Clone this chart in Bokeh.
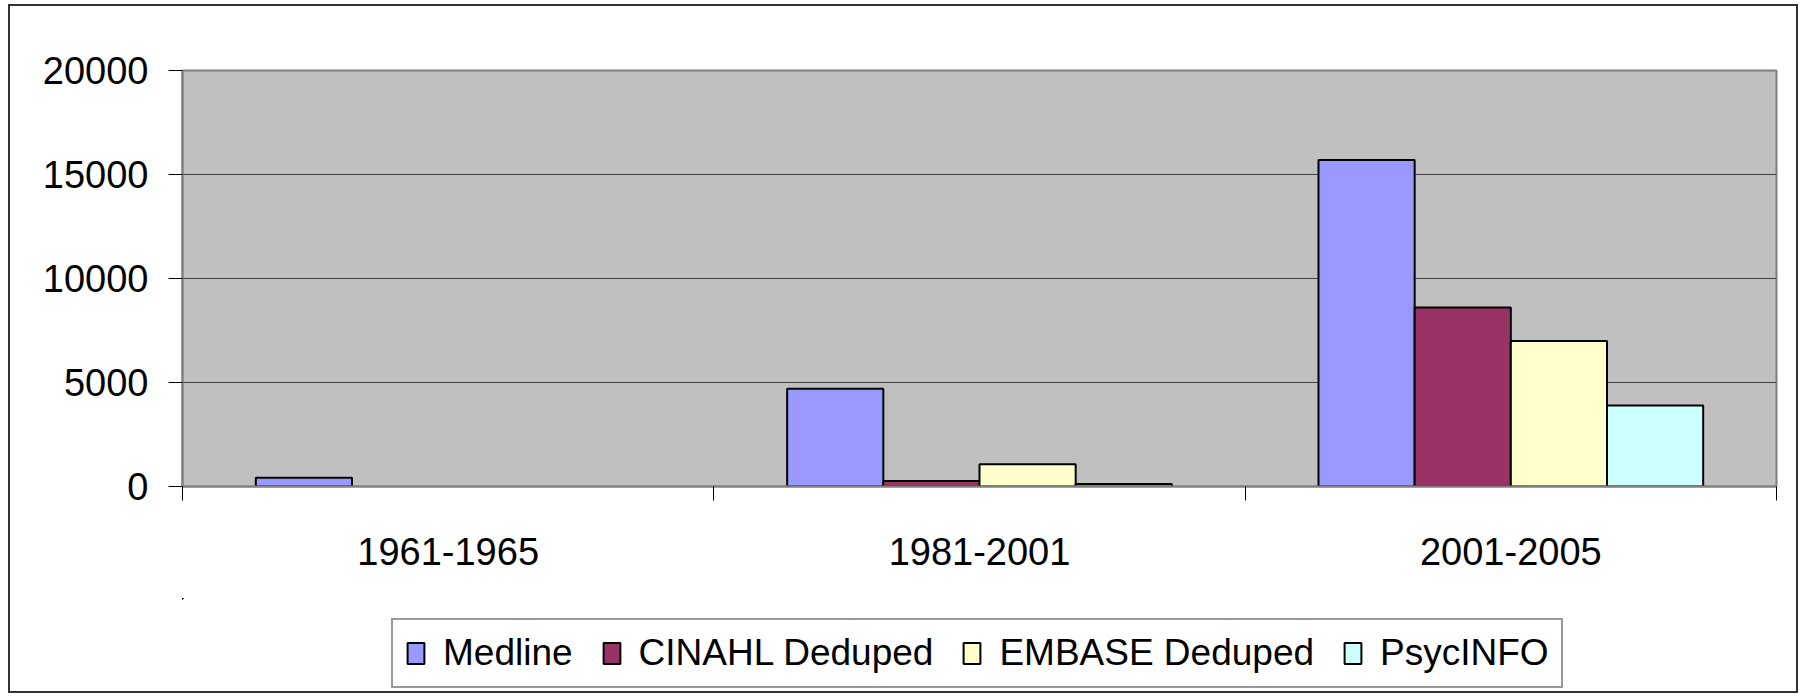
from bokeh.plotting import figure
from bokeh.layouts import column
from bokeh.models import (ColumnDataSource, Range1d, FixedTicker, NumeralTickFormatter,
                          Legend, LegendItem)
from bokeh.embed import file_html
from bokeh.resources import INLINE

categories = ["1961-1965", "1981-2001", "2001-2005"]
series = ["Medline", "CINAHL Deduped", "EMBASE Deduped", "PsycINFO"]
medline = [420, 4700, 15700]
cinahl = [0, 270, 8600]
embase = [0, 1070, 7000]
psycinfo = [0, 120, 3900]
colors = ["#9999FF", "#993366", "#FFFFCC", "#CCFFFF"]
y_ticks = [0, 5000, 10000, 15000, 20000]

FONT = "Liberation Sans"
BORDER = "2px solid #333333"
n_cat = len(categories)
bar_w = 0.181
W, H = 1790, 594
H_LEG = 95
B_LEFT, B_RIGHT = 172, 24

p = figure(width=W, height=H, output_backend="svg", toolbar_location=None,
           x_range=Range1d(0, n_cat), y_range=Range1d(0, 20000),
           min_border_left=B_LEFT, min_border_top=64, min_border_right=B_RIGHT,
           min_border_bottom=114)
p.styles = {"border-top": BORDER, "border-left": BORDER, "border-right": BORDER}
p.background_fill_color = "#C0C0C0"
p.border_fill_color = "white"
p.outline_line_color = "#808080"
p.outline_line_width = 2

# legend-only strip below the chart (its view ranges lie far away from the bars)
p2 = figure(width=W, height=H_LEG, output_backend="svg", toolbar_location=None,
            x_axis_type=None, y_axis_type=None,
            min_border_left=B_LEFT, min_border_right=B_RIGHT,
            min_border_top=0, min_border_bottom=0,
            x_range=Range1d(1000, 1001), y_range=Range1d(-2, -1))
p2.styles = {"border-bottom": BORDER, "border-left": BORDER, "border-right": BORDER}
p2.outline_line_color = None
p2.background_fill_color = "white"
p2.border_fill_color = "white"

items = []
for j, (name, vals) in enumerate(zip(series, [medline, cinahl, embase, psycinfo])):
    xs, tops = [], []
    for i, v in enumerate(vals):
        if v > 0:
            xs.append(i + 0.5 + (j - 1.5) * bar_w)
            tops.append(v)
    src = ColumnDataSource(dict(x=xs, top=tops))
    style = dict(fill_color=colors[j], line_color="black", line_width=2)
    p.vbar(x="x", top="top", width=bar_w, bottom=0, source=src, **style)
    r2 = p2.vbar(x="x", top="top", width=bar_w, bottom=0, source=src, **style)
    items.append(LegendItem(label=name, renderers=[r2]))

# grid
p.xgrid.visible = False
p.ygrid.ticker = FixedTicker(ticks=y_ticks)
p.ygrid.grid_line_color = "#404040"
p.ygrid.grid_line_width = 1

# y axis
ya = p.yaxis[0]
ya.ticker = FixedTicker(ticks=y_ticks)
ya.formatter = NumeralTickFormatter(format="0")
ya.axis_line_color = "#808080"
ya.axis_line_width = 2
ya.major_tick_line_color = "black"
ya.major_tick_out = 14
ya.major_tick_in = 0
ya.minor_tick_line_color = None
ya.major_label_standoff = 20
ya.major_label_text_font = FONT
ya.major_label_text_font_size = "38px"
ya.major_label_text_color = "black"

# x axis
xa = p.xaxis[0]
centers = [i + 0.5 for i in range(n_cat)]
xa.ticker = FixedTicker(ticks=centers, minor_ticks=list(range(n_cat + 1)))
xa.major_label_overrides = {c: lab for c, lab in zip(centers, categories)}
xa.axis_line_color = "#808080"
xa.axis_line_width = 2
xa.major_tick_line_color = None
xa.major_tick_out = 0
xa.major_tick_in = 0
xa.minor_tick_line_color = "black"
xa.minor_tick_out = 14
xa.minor_tick_in = 0
xa.major_label_standoff = 37
xa.major_label_text_font = FONT
xa.major_label_text_font_size = "38px"
xa.major_label_text_color = "black"

legend = Legend(items=items, orientation="horizontal", location=(381 - B_LEFT, 5))
legend.label_text_font = FONT
legend.label_text_font_size = "37px"
legend.label_text_color = "black"
legend.glyph_width = 21
legend.glyph_height = 26
legend.label_standoff = 17
legend.spacing = 28
legend.padding = 12
legend.margin = 0
legend.border_line_color = "#333333"
legend.border_line_width = 2
legend.background_fill_color = "white"
p2.add_layout(legend, "center")

layout = column(p, p2, spacing=0, styles={"margin-left": "8px", "margin-top": "4px"})

open("out.html", "w").write(file_html(layout, INLINE))
